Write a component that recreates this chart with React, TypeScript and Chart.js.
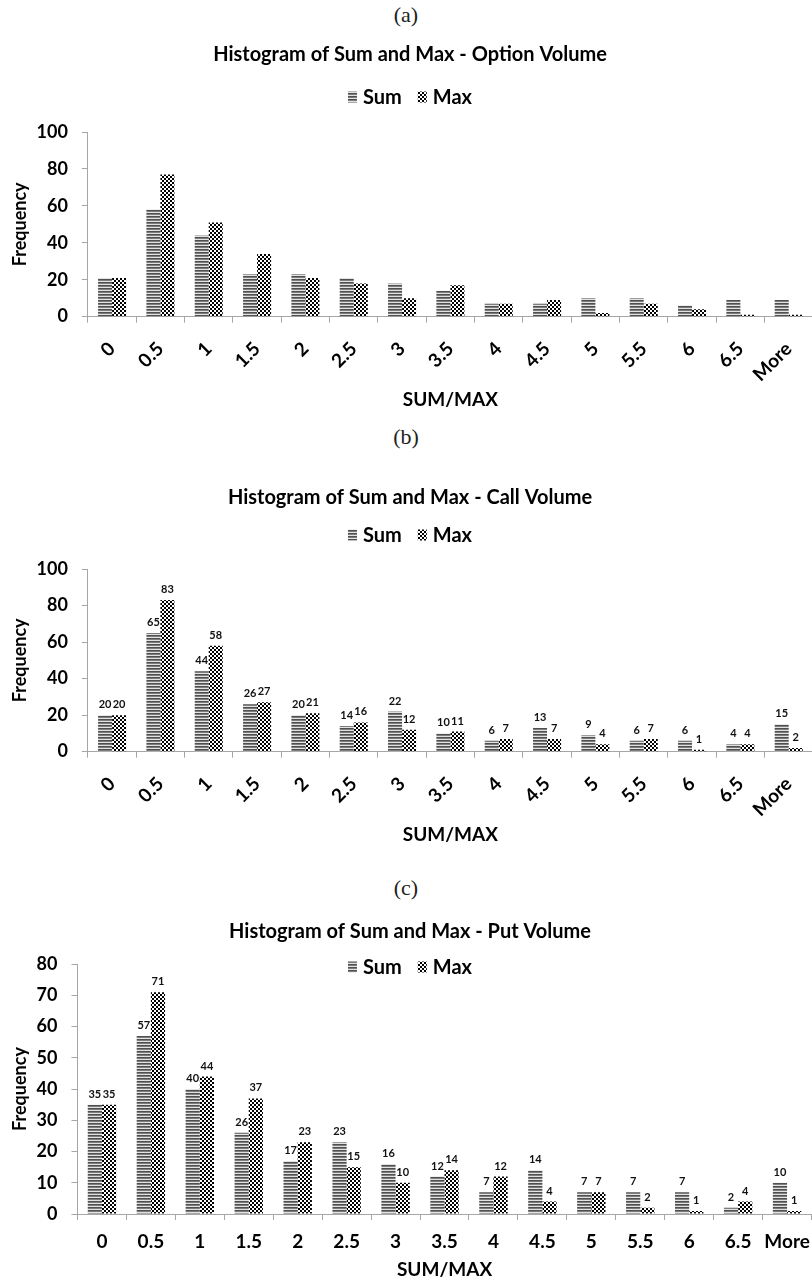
import React, { useEffect, useRef } from "react";
import { Chart, registerables } from "chart.js";

Chart.register(...registerables);

// ---------- data ----------
const categories = ["0", "0.5", "1", "1.5", "2", "2.5", "3", "3.5", "4", "4.5", "5", "5.5", "6", "6.5", "More"];
const seriesNames = ["Sum", "Max"];

const optionSum = [21, 58, 44, 23, 23, 21, 18, 14, 7, 7, 10, 10, 6, 9, 9];
const optionMax = [21, 77, 51, 34, 21, 18, 10, 17, 7, 9, 2, 7, 4, 1, 1];

const callSum = [20, 65, 44, 26, 20, 14, 22, 10, 6, 13, 9, 6, 6, 4, 15];
const callMax = [20, 83, 58, 27, 21, 16, 12, 11, 7, 7, 4, 7, 1, 4, 2];

const putSum = [35, 57, 40, 26, 17, 23, 16, 12, 7, 14, 7, 7, 7, 2, 10];
const putMax = [35, 71, 44, 37, 23, 15, 10, 14, 12, 4, 7, 2, 1, 4, 1];

const captions = ["(a)", "(b)", "(c)"];
const chartTitles = [
  "Histogram of Sum and Max - Option Volume",
  "Histogram of Sum and Max - Call Volume",
  "Histogram of Sum and Max - Put Volume",
];
const xAxisTitle = "SUM/MAX";
const yAxisTitle = "Frequency";
const yMaxes = [100, 100, 80];
const ySteps = [20, 20, 10];

// ---------- styling ----------
const FONT = "Lato, 'DejaVu Sans', sans-serif";
const AXIS = "#a6a6a6";
const INK = "#000000";

function stripePattern(ctx: CanvasRenderingContext2D) {
  const c = document.createElement("canvas");
  c.width = 3;
  c.height = 3;
  const g = c.getContext("2d")!;
  g.fillStyle = "#505050";
  g.fillRect(0, 0, 3, 1);
  g.fillStyle = "#7c7c7c";
  g.fillRect(0, 1, 3, 1);
  g.fillStyle = "#e2e2e2";
  g.fillRect(0, 2, 3, 1);
  return ctx.createPattern(c, "repeat")!;
}

function checkerPattern(ctx: CanvasRenderingContext2D) {
  const c = document.createElement("canvas");
  c.width = 4;
  c.height = 4;
  const g = c.getContext("2d")!;
  g.fillStyle = "#ffffff";
  g.fillRect(0, 0, 4, 4);
  g.fillStyle = "#000000";
  g.fillRect(0, 0, 2, 2);
  g.fillRect(2, 2, 2, 2);
  return ctx.createPattern(c, "repeat")!;
}

const patternLegend = {
  id: "patternLegend",
  afterDraw(chart: any, _args: any, opts: any) {
    const ctx: CanvasRenderingContext2D = chart.ctx;
    ctx.save();
    ctx.font = `bold ${opts.fontSize}px ${FONT}`;
    ctx.textBaseline = "middle";
    ctx.textAlign = "left";
    const box = { w: 9, h: 11 };
    const gap = 6;
    const spacing = 16;
    const items = chart.data.datasets.map((ds: any) => ({ text: ds.label, fill: ds.backgroundColor }));
    const widths = items.map((it: any) => box.w + gap + ctx.measureText(it.text).width);
    const total = widths.reduce((a: number, b: number) => a + b, 0) + spacing * (items.length - 1);
    let x = opts.centerX - total / 2;
    const y = opts.y;
    items.forEach((it: any, i: number) => {
      ctx.fillStyle = it.fill;
      ctx.fillRect(x, y - box.h / 2, box.w, box.h);
      ctx.fillStyle = INK;
      ctx.fillText(it.text, x + box.w + gap, y + 1);
      x += widths[i] + spacing;
    });
    ctx.restore();
  },
};

const valueLabels = {
  id: "valueLabels",
  afterDatasetsDraw(chart: any, _args: any, opts: any) {
    if (!opts.display) return;
    const ctx: CanvasRenderingContext2D = chart.ctx;
    ctx.save();
    ctx.font = `bold 11px ${FONT}`;
    ctx.fillStyle = "#111";
    ctx.textAlign = "center";
    ctx.textBaseline = "bottom";
    chart.data.datasets.forEach((ds: any, i: number) => {
      const meta = chart.getDatasetMeta(i);
      meta.data.forEach((el: any, j: number) => {
        ctx.fillText(String(ds.data[j]), el.x, el.y - 5);
      });
    });
    ctx.restore();
  },
};

type PanelProps = {
  idx: number;
  sum: number[];
  max: number[];
  top: number;
  height: number;
  captionY: number;
  titleTop: number;
  titleBottom: number;
  legendY: number;
  padBottom: number;
  xTickPad: number;
  xTitlePadTop: number;
  rotate: number;
  showValues: boolean;
};

function Panel(p: PanelProps) {
  const ref = useRef<HTMLCanvasElement | null>(null);
  const W = 820;
  useEffect(() => {
    const canvas = ref.current!;
    const ctx = canvas.getContext("2d")!;
    const chart = new Chart(canvas, {
      type: "bar",
      data: {
        labels: categories,
        datasets: [
          {
            label: seriesNames[0],
            data: p.sum,
            backgroundColor: stripePattern(ctx) as any,
            borderWidth: 0,
            categoryPercentage: 0.58,
            barPercentage: 1,
          },
          {
            label: seriesNames[1],
            data: p.max,
            backgroundColor: checkerPattern(ctx) as any,
            borderWidth: 0,
            categoryPercentage: 0.58,
            barPercentage: 1,
          },
        ],
      },
      options: {
        responsive: false,
        animation: false,
        events: [],
        layout: { padding: { left: 5, right: 5, top: 0, bottom: p.padBottom } },
        plugins: {
          legend: { display: false },
          tooltip: { enabled: false },
          title: {
            display: true,
            text: chartTitles[p.idx],
            color: INK,
            font: { family: FONT, size: 20, weight: "bold" },
            padding: { top: p.titleTop, bottom: p.titleBottom },
          },
          patternLegend: { y: p.legendY, centerX: W / 2, fontSize: 20 },
          valueLabels: { display: p.showValues },
        } as any,
        scales: {
          x: {
            grid: { display: true, drawOnChartArea: false, drawTicks: true, tickLength: 6, color: AXIS, offset: true },
            border: { display: true, color: AXIS, width: 1 },
            ticks: {
              autoSkip: false,
              maxRotation: p.rotate,
              minRotation: p.rotate,
              padding: p.xTickPad,
              color: INK,
              font: { family: FONT, size: 19, weight: "bold" },
            },
            title: {
              display: true,
              text: xAxisTitle,
              color: INK,
              font: { family: FONT, size: 19, weight: "bold" },
              padding: { top: p.xTitlePadTop, bottom: 4 },
            },
          },
          y: {
            min: 0,
            max: yMaxes[p.idx],
            grid: { display: true, drawOnChartArea: false, drawTicks: true, tickLength: 6, color: AXIS },
            border: { display: true, color: AXIS, width: 1 },
            ticks: {
              stepSize: ySteps[p.idx],
              padding: 14,
              color: INK,
              font: { family: FONT, size: 18, weight: "bold" },
            },
            title: {
              display: true,
              text: yAxisTitle,
              color: INK,
              font: { family: FONT, size: 18, weight: "bold" },
              padding: { top: 4, bottom: -8 },
            },
          },
        },
      },
      plugins: [patternLegend, valueLabels],
    });
    return () => chart.destroy();
  }, []);

  return (
    <>
      <div
        style={{
          position: "absolute",
          left: 0,
          top: p.captionY - 14,
          width: 812,
          height: 28,
          lineHeight: "28px",
          textAlign: "center",
          fontFamily: "'Liberation Serif', 'DejaVu Serif', serif",
          fontSize: 22,
          color: "#222",
        }}
      >
        {captions[p.idx]}
      </div>
      <canvas
        ref={ref}
        width={W}
        height={p.height}
        style={{ position: "absolute", left: 0, top: p.top, width: W, height: p.height }}
      />
    </>
  );
}

export default function App() {
  return (
    <div
      style={{
        position: "absolute",
        left: 0,
        top: 0,
        width: 812,
        height: 1281,
        overflow: "hidden",
        background: "#fff",
      }}
    >
      <Panel idx={0} sum={optionSum} max={optionMax} top={30} height={390} captionY={15}
        titleTop={13} titleBottom={65} legendY={67} padBottom={4.6} xTickPad={15} xTitlePadTop={-12.4}
        rotate={45} showValues={false} />
      <Panel idx={1} sum={callSum} max={callMax} top={455} height={400} captionY={437}
        titleTop={31} titleBottom={59} legendY={80} padBottom={4.6} xTickPad={15} xTitlePadTop={-12.4}
        rotate={45} showValues={true} />
      <Panel idx={2} sum={putSum} max={putMax} top={898} height={390} captionY={888}
        titleTop={22} titleBottom={20} legendY={69} padBottom={2.6} xTickPad={10} xTitlePadTop={-4.2}
        rotate={0} showValues={true} />
    </div>
  );
}
